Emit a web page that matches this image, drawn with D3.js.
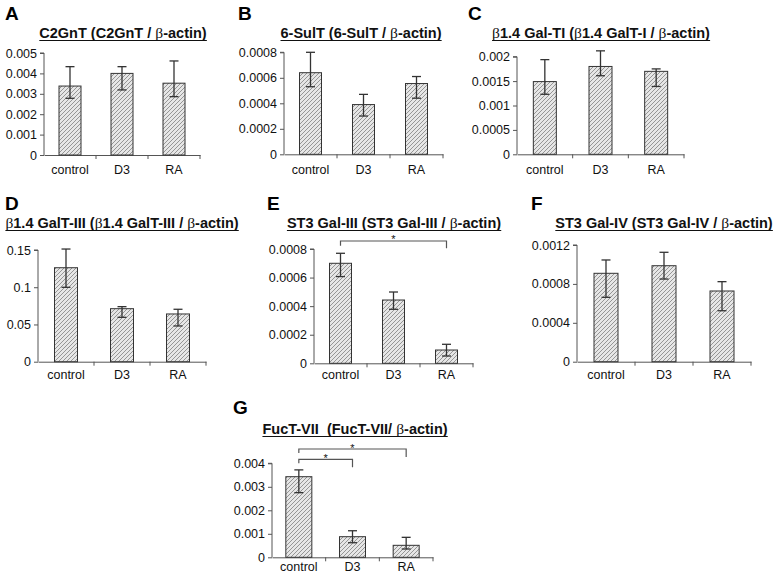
<!DOCTYPE html>
<html>
<head>
<meta charset="utf-8">
<script src="https://cdn.jsdelivr.net/npm/d3@7/dist/d3.min.js"></script>
<style>
  body { margin: 0; background: #fff; }
  text { font-family: "Liberation Sans", Arial, sans-serif; }
</style>
</head>
<body>
<svg id="chart" width="780" height="574"></svg>
<script>
// ---------------- DATA ----------------
const categories = ["control", "D3", "RA"];
const panelLetters = ["A", "B", "C", "D", "E", "F", "G"];
const panelGenes = ["C2GnT", "6-SulT", "β1.4 Gal-TI", "β1.4 GalT-III", "ST3 Gal-III", "ST3 Gal-IV", "FucT-VII\u00a0"];
const panelRatios = ["C2GnT / ", "6-SulT / ", "β1.4 GalT-I / ", "β1.4 GalT-III / ", "ST3 Gal-III / ", "ST3 Gal-IV / ", "FucT-VII/ "];

// means and error bar ends [low, high] per category
const meanA = [0.00338, 0.00400, 0.00352];
const errA  = [[0.00278, 0.00433], [0.00319, 0.00433], [0.00286, 0.00461]];
const ticksA = [0, 0.001, 0.002, 0.003, 0.004, 0.005];

const meanB = [0.00064, 0.00039, 0.000555];
const errB  = [[0.00053, 0.00080], [0.00030, 0.00047], [0.00044, 0.00061]];
const ticksB = [0, 0.0002, 0.0004, 0.0006, 0.0008];

const meanC = [0.00149, 0.00180, 0.00170];
const errC  = [[0.00123, 0.00194], [0.00161, 0.00212], [0.00139, 0.00175]];
const ticksC = [0, 0.0005, 0.001, 0.0015, 0.002];

const meanD = [0.1262, 0.0712, 0.0641];
const errD  = [[0.0999, 0.1513], [0.0596, 0.0739], [0.0480, 0.0704]];
const ticksD = [0, 0.05, 0.1, 0.15];

const meanE = [0.000700, 0.000443, 0.000093];
const errE  = [[0.000607, 0.000770], [0.000378, 0.000499], [0.000051, 0.000133]];
const ticksE = [0, 0.0002, 0.0004, 0.0006, 0.0008];

const meanF = [0.000909, 0.000987, 0.000727];
const errF  = [[0.000662, 0.001046], [0.000850, 0.001125], [0.000524, 0.000823]];
const ticksF = [0, 0.0004, 0.0008, 0.0012];

const meanG = [0.00343, 0.000877, 0.00051];
const errG  = [[0.00275, 0.00372], [0.00062, 0.00113], [0.000353, 0.00085]];
const ticksG = [0, 0.001, 0.002, 0.003, 0.004];

// significance brackets: [from category, to category]
const sigE = [["control", "RA"]];
const sigG = [["control", "RA"], ["control", "D3"]];

const panelMeans = [meanA, meanB, meanC, meanD, meanE, meanF, meanG];
const panelErrs = [errA, errB, errC, errD, errE, errF, errG];
const panelTicks = [ticksA, ticksB, ticksC, ticksD, ticksE, ticksF, ticksG];
const panelSigs = [[], [], [], [], sigE, [], sigG];

// ---------------- LAYOUT ----------------
const layout = [
  { x0: 44,  x1: 200, yTop: 53,    yBot: 155,   barW: 22, titleX: 123, titleY: 38,  letX: 5,   letY: 20,  catY: 174 },
  { x0: 284, x1: 443, yTop: 52.3,  yBot: 154.3, barW: 22, titleX: 361, titleY: 38,  letX: 238, letY: 20,  catY: 174 },
  { x0: 517, x1: 684, yTop: 56.7,  yBot: 154.3, barW: 23, titleX: 601, titleY: 38,  letX: 468, letY: 20,  catY: 174 },
  { x0: 38,  x1: 206, yTop: 250,   yBot: 361.7, barW: 23, titleX: 122, titleY: 228, letX: 5,   letY: 210, catY: 379 },
  { x0: 314, x1: 473, yTop: 249,   yBot: 363.3, barW: 22, titleX: 394, titleY: 228, letX: 267, letY: 210, catY: 379,
    sig: [{y: 241, dl: 4.7, dr: 7.3, sy: 237}] },
  { x0: 577, x1: 751, yTop: 245,   yBot: 361.7, barW: 24, titleX: 664, titleY: 228, letX: 531, letY: 210, catY: 379 },
  { x0: 272, x1: 433, yTop: 463.3, yBot: 557.3, barW: 26, titleX: 355, titleY: 434, letX: 233, letY: 414, catY: 571,
    sig: [{y: 449, dl: 4, dr: 8, sy: 446}, {y: 459.3, dl: 4, dr: 8, sy: 456}] }
];

const svg = d3.select("#chart");
const defs = svg.append("defs");
const pat = defs.append("pattern")
  .attr("id", "hatch").attr("patternUnits", "userSpaceOnUse")
  .attr("width", 4).attr("height", 4);
pat.append("rect").attr("width", 4).attr("height", 4).attr("fill", "#e6e6e6");
pat.append("path").attr("d", "M-1,1 l2,-2 M0,4 l4,-4 M3,5 l2,-2")
  .attr("stroke", "#808080").attr("stroke-width", 0.8);

const fmt = v => (v === 0 ? "0" : String(+v.toPrecision(6)));
const axisColor = "#555";

panelLetters.forEach((letter, i) => {
  const L = layout[i];
  const means = panelMeans[i], errs = panelErrs[i], ticks = panelTicks[i];
  const g = svg.append("g");

  const x = d3.scaleBand().domain(categories).range([L.x0, L.x1]).paddingInner(0).paddingOuter(0);
  const y = d3.scaleLinear().domain([0, d3.max(ticks)]).range([L.yBot, L.yTop]);

  // panel letter
  g.append("text").attr("x", L.letX).attr("y", L.letY)
    .attr("font-size", 19).attr("font-weight", "bold").attr("fill", "#000").text(letter);

  // title
  const t = g.append("text").attr("x", L.titleX).attr("y", L.titleY)
    .attr("text-anchor", "middle").attr("font-size", 14.5).attr("font-weight", "bold").attr("fill", "#111");
  const addGreek = (sel, s) => {
    s.split(/(β)/).forEach(part => {
      if (!part) return;
      if (part === "β") sel.append("tspan").attr("font-family", "Liberation Serif, serif").attr("font-weight", "normal").attr("font-size", 15.5).text("β");
      else sel.append("tspan").text(part);
    });
  };
  addGreek(t, panelGenes[i] + " (");
  addGreek(t, panelRatios[i]);
  addGreek(t, "β-actin)");
  const bb = t.node().getBBox();
  g.append("line").attr("x1", bb.x).attr("x2", bb.x + bb.width)
    .attr("y1", L.titleY + 2.5).attr("y2", L.titleY + 2.5)
    .attr("stroke", "#111").attr("stroke-width", 1.2);

  // y axis
  const yAxis = d3.axisLeft(y).tickValues(ticks).tickSize(4).tickPadding(3).tickFormat(fmt);
  const ya = g.append("g").attr("transform", `translate(${L.x0},0)`).call(yAxis);
  ya.select(".domain").attr("stroke", axisColor).attr("d", `M-4,${L.yTop}H0V${L.yBot}`);
  ya.selectAll(".tick line").attr("stroke", axisColor);
  ya.selectAll(".tick text").attr("font-size", 12.5).attr("fill", "#111")
    .attr("font-family", "Liberation Sans, Arial, sans-serif");

  // x axis
  const xa = g.append("g").attr("transform", `translate(0,${L.yBot})`)
    .call(d3.axisBottom(x).tickSize(0).tickPadding(0));
  xa.select(".domain").attr("stroke", axisColor);
  xa.selectAll(".tick text").remove();
  const bounds = [L.x0 + x.step(), L.x0 + 2 * x.step(), L.x1];
  xa.selectAll(".sep").data(bounds).enter().append("line")
    .attr("x1", d => d).attr("x2", d => d).attr("y1", 0).attr("y2", 4).attr("stroke", axisColor);
  g.selectAll(".cat").data(categories).enter().append("text")
    .attr("x", d => x(d) + x.bandwidth() / 2).attr("y", L.catY)
    .attr("text-anchor", "middle").attr("font-size", 12.5).attr("fill", "#111").text(d => d);

  // bars
  const cx = d => x(d) + x.bandwidth() / 2;
  g.selectAll(".bar").data(categories).enter().append("rect")
    .attr("x", d => cx(d) - L.barW / 2)
    .attr("width", L.barW)
    .attr("y", (d, j) => y(means[j]))
    .attr("height", (d, j) => y(0) - y(means[j]))
    .attr("fill", "url(#hatch)").attr("stroke", "#333").attr("stroke-width", 1);

  // error bars
  const eb = g.selectAll(".err").data(categories).enter().append("g").attr("stroke", "#333").attr("stroke-width", 1.3);
  eb.append("line").attr("x1", cx).attr("x2", cx)
    .attr("y1", (d, j) => y(errs[j][0])).attr("y2", (d, j) => y(errs[j][1]));
  eb.append("line").attr("x1", d => cx(d) - 4.5).attr("x2", d => cx(d) + 4.5)
    .attr("y1", (d, j) => y(errs[j][0])).attr("y2", (d, j) => y(errs[j][0]));
  eb.append("line").attr("x1", d => cx(d) - 4.5).attr("x2", d => cx(d) + 4.5)
    .attr("y1", (d, j) => y(errs[j][1])).attr("y2", (d, j) => y(errs[j][1]));

  // significance brackets
  panelSigs[i].forEach((pair, k) => {
    const S = L.sig[k];
    const xa1 = cx(pair[0]), xb1 = cx(pair[1]);
    g.append("path")
      .attr("d", `M${xa1},${S.y + S.dl}V${S.y}H${xb1}V${S.y + S.dr}`)
      .attr("fill", "none").attr("stroke", "#555").attr("stroke-width", 1.2);
    g.append("text").attr("x", (xa1 + xb1) / 2).attr("y", S.sy + 6)
      .attr("text-anchor", "middle").attr("font-size", 11).attr("fill", "#111").text("*");
  });
});
</script>
</body>
</html>
